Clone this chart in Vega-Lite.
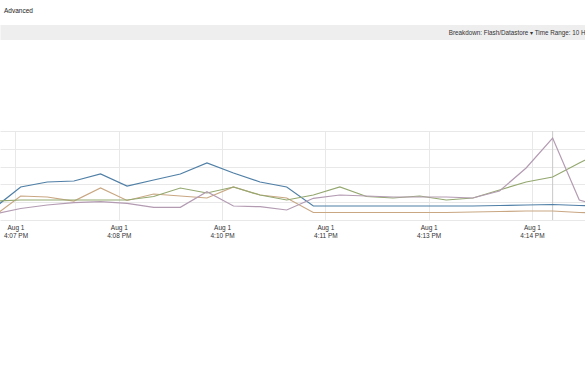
{
  "$schema": "https://vega.github.io/schema/vega-lite/v6.json",
  "width": 585,
  "height": 89,
  "autosize": {"type": "none"},
  "padding": {"top": 131, "left": 0, "right": 0, "bottom": 158},
  "background": "white",
  "title": {"text": "Advanced", "anchor": "start", "fontSize": 6.5, "fontWeight": "normal", "font": "Liberation Sans", "color": "#222", "offset": 15, "dx": 4},
  "config": {"view": {"stroke": null}, "font": "Liberation Sans"},
  "layer": [
    {
      "data": {"values": [{"t": "2012-08-01T16:14:48.000"}]},
      "mark": {"type": "rule", "color": "#c8c8c8", "strokeWidth": 1},
      "encoding": {
        "x": {"field": "t", "type": "temporal",
          "axis": {"orient": "top", "labels": false, "ticks": false, "grid": false,
            "domainColor": "#eeeeee", "domainWidth": 15, "offset": 99,
            "title": "Breakdown: Flash/Datastore ▾   Time Range: 10 H",
            "titleAnchor": "end", "titleFontSize": 6.3, "titleFontWeight": "normal",
            "titleColor": "#333", "titleFont": "Liberation Sans", "titleBaseline": "middle", "titlePadding": 0}}
      }
    },
    {
      "data": {"values": [
        {"t": "2012-08-01T16:06:41.400", "Total": 6.74, "Local": 2.25, "Network": 10.67, "Datastore": 3.37},
        {"t": "2012-08-01T16:07:04.500", "Total": 18.54, "Local": 13.48, "Network": 11.24, "Datastore": 6.46},
        {"t": "2012-08-01T16:07:27.700", "Total": 21.35, "Local": 12.92, "Network": 11.24, "Datastore": 8.43},
        {"t": "2012-08-01T16:07:50.900", "Total": 21.91, "Local": 10.67, "Network": 11.24, "Datastore": 9.72},
        {"t": "2012-08-01T16:08:14.100", "Total": 25.84, "Local": 17.98, "Network": 11.24, "Datastore": 10.28},
        {"t": "2012-08-01T16:08:37.200", "Total": 19.10, "Local": 10.96, "Network": 11.24, "Datastore": 9.38},
        {"t": "2012-08-01T16:09:00.400", "Total": 22.47, "Local": 14.61, "Network": 13.20, "Datastore": 7.13},
        {"t": "2012-08-01T16:09:23.600", "Total": 25.84, "Local": 13.48, "Network": 17.98, "Datastore": 7.13},
        {"t": "2012-08-01T16:09:46.800", "Total": 32.02, "Local": 12.36, "Network": 15.17, "Datastore": 15.90},
        {"t": "2012-08-01T16:10:09.900", "Total": 26.40, "Local": 18.54, "Network": 18.54, "Datastore": 7.87},
        {"t": "2012-08-01T16:10:33.100", "Total": 21.35, "Local": 14.04, "Network": 14.04, "Datastore": 7.47},
        {"t": "2012-08-01T16:10:56.300", "Total": 18.54, "Local": 12.36, "Network": 11.24, "Datastore": 5.62},
        {"t": "2012-08-01T16:11:19.500", "Total": 7.87, "Local": 4.21, "Network": 14.04, "Datastore": 12.19},
        {"t": "2012-08-01T16:11:42.600", "Total": 7.87, "Local": 4.21, "Network": 18.54, "Datastore": 14.04},
        {"t": "2012-08-01T16:12:05.800", "Total": 7.87, "Local": 4.21, "Network": 13.20, "Datastore": 13.48},
        {"t": "2012-08-01T16:12:29.000", "Total": 7.87, "Local": 4.21, "Network": 12.36, "Datastore": 12.92},
        {"t": "2012-08-01T16:12:52.200", "Total": 7.87, "Local": 4.21, "Network": 13.48, "Datastore": 12.92},
        {"t": "2012-08-01T16:13:15.300", "Total": 7.87, "Local": 4.21, "Network": 11.24, "Datastore": 12.92},
        {"t": "2012-08-01T16:13:38.500", "Total": 7.87, "Local": 4.49, "Network": 12.36, "Datastore": 12.36},
        {"t": "2012-08-01T16:14:01.700", "Total": 8.15, "Local": 4.78, "Network": 16.85, "Datastore": 16.29},
        {"t": "2012-08-01T16:14:24.900", "Total": 8.43, "Local": 5.06, "Network": 21.35, "Datastore": 29.21},
        {"t": "2012-08-01T16:14:48.000", "Total": 8.71, "Local": 5.06, "Network": 24.16, "Datastore": 46.07},
        {"t": "2012-08-01T16:15:11.200", "Total": 8.15, "Local": 4.21, "Network": 32.02, "Datastore": 11.24},
        {"t": "2012-08-01T16:15:34.400", "Total": 7.87, "Local": 3.93, "Network": 39.33, "Datastore": 6.74}
      ]},
      "transform": [{"fold": ["Total", "Local", "Network", "Datastore"], "as": ["series", "value"]}],
      "mark": {"type": "line", "clip": true, "strokeWidth": 1.2},
      "encoding": {
        "x": {"field": "t", "type": "temporal",
          "scale": {"domain": [
            {"year": 2012, "month": "aug", "date": 1, "hours": 16, "minutes": 6, "seconds": 46, "milliseconds": 500},
            {"year": 2012, "month": "aug", "date": 1, "hours": 16, "minutes": 15, "seconds": 16, "milliseconds": 200}
          ]},
          "axis": {"orient": "bottom", "title": null, "domain": false, "ticks": false,
            "grid": true, "gridColor": "#e8e8e8",
            "values": [
              {"year": 2012, "month": "aug", "date": 1, "hours": 16, "minutes": 7, "seconds": 0},
              {"year": 2012, "month": "aug", "date": 1, "hours": 16, "minutes": 8, "seconds": 30},
              {"year": 2012, "month": "aug", "date": 1, "hours": 16, "minutes": 10, "seconds": 0},
              {"year": 2012, "month": "aug", "date": 1, "hours": 16, "minutes": 11, "seconds": 30},
              {"year": 2012, "month": "aug", "date": 1, "hours": 16, "minutes": 13, "seconds": 0},
              {"year": 2012, "month": "aug", "date": 1, "hours": 16, "minutes": 14, "seconds": 30}
            ],
            "labelExpr": "[timeFormat(datum.value, '%b %-d'), timeFormat(datum.value, '%-I:%M %p')]",
            "labelFontSize": 6.5, "labelColor": "#333", "labelFont": "Liberation Sans",
            "labelLineHeight": 8, "labelPadding": 4, "labelBaseline": "top", "labelFlush": false, "labelOverlap": false}},
        "y": {"field": "value", "type": "quantitative",
          "scale": {"domain": [0, 50], "nice": false, "zero": false},
          "axis": {"title": null, "labels": false, "ticks": false, "domain": false,
            "grid": true, "gridColor": "#e8e8e8", "values": [0, 10, 20, 30, 40, 50]}},
        "color": {"field": "series", "type": "nominal",
          "scale": {"domain": ["Total", "Local", "Network", "Datastore"],
            "range": ["#4f7fa6", "#c9a783", "#94a86f", "#b39bb2"]},
          "legend": null}
      }
    }
  ],
  "resolve": {"axis": {"x": "independent"}}
}
